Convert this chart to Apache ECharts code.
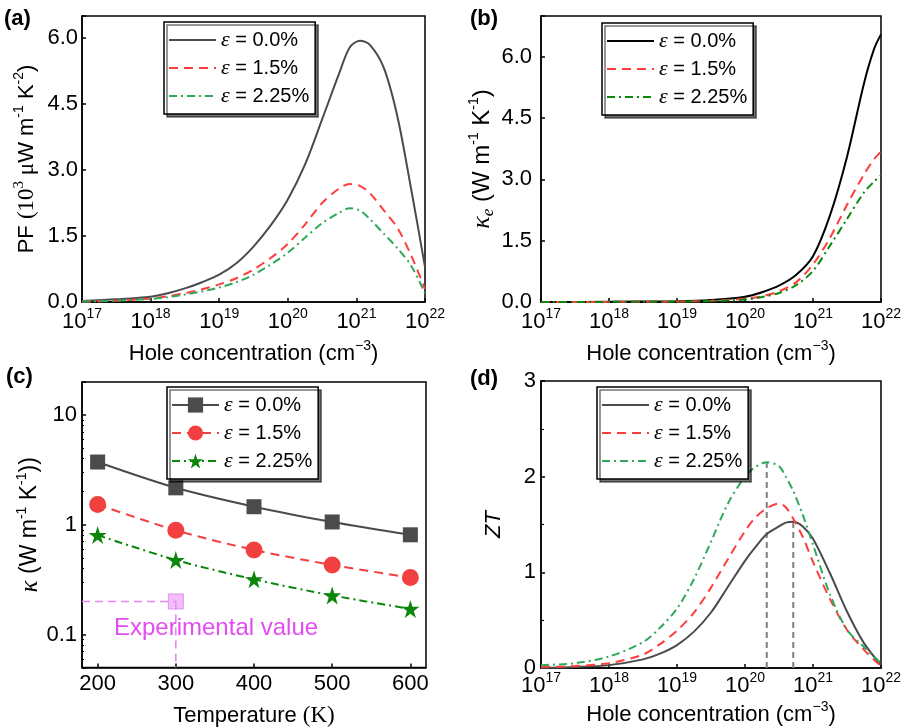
<!DOCTYPE html>
<html>
<head>
<meta charset="utf-8">
<script src="https://cdn.jsdelivr.net/npm/echarts@6/dist/echarts.min.js"></script>
<style>
  html, body { margin: 0; padding: 0; background: #fff; }
  #chart { width: 904px; height: 728px; }
</style>
</head>
<body>
<div id="chart"></div>
<script>
// ---- data ----
// strain levels, shared by all panels
const strainLabels = ['0.0%', '1.5%', '2.25%'];

// (a) power factor (10^3 uW m^-1 K^-2) vs hole concentration, x as log10(p)
const pfExp = [17, 17.5, 18, 18.25, 18.5, 18.75, 19, 19.25, 19.5, 19.75, 20, 20.25, 20.5, 20.75, 20.9, 21.05, 21.2, 21.4, 21.6, 21.8, 22];
const pfS0   = [0.02, 0.06, 0.12, 0.20, 0.31, 0.45, 0.62, 0.88, 1.26, 1.74, 2.33, 3.12, 4.15, 5.20, 5.78, 5.94, 5.84, 5.32, 4.20, 2.55, 0.80];
const pfS15  = [0.01, 0.03, 0.08, 0.13, 0.20, 0.29, 0.40, 0.54, 0.74, 1.00, 1.32, 1.76, 2.25, 2.58, 2.68, 2.64, 2.47, 2.08, 1.68, 1.05, 0.30];
const pfS225 = [0.01, 0.03, 0.07, 0.11, 0.17, 0.24, 0.33, 0.45, 0.62, 0.85, 1.12, 1.46, 1.79, 2.03, 2.13, 2.08, 1.88, 1.55, 1.22, 0.82, 0.20];

// (b) electronic thermal conductivity (W m^-1 K^-1) vs hole concentration
const keExp = [17, 18, 19, 19.5, 20, 20.25, 20.5, 20.75, 21, 21.25, 21.5, 21.75, 21.9, 22];
const keS0   = [0, 0.005, 0.02, 0.05, 0.13, 0.24, 0.40, 0.66, 1.12, 2.12, 3.55, 5.35, 6.20, 6.55];
const keS15  = [0, 0.003, 0.01, 0.03, 0.08, 0.14, 0.26, 0.48, 0.92, 1.57, 2.38, 3.12, 3.50, 3.68];
const keS225 = [0, 0.003, 0.01, 0.025, 0.06, 0.12, 0.22, 0.41, 0.76, 1.38, 2.03, 2.68, 2.95, 3.10];

// (c) lattice thermal conductivity vs temperature
const temps = [200, 300, 400, 500, 600];
const kapS0   = [3.73, 2.17, 1.46, 1.06, 0.81];
const kapS15  = [1.53, 0.89, 0.59, 0.43, 0.33];
const kapS225 = [0.805, 0.477, 0.318, 0.227, 0.171];
const expTemp = 300;
const expKappa = 0.2;

// (d) ZT vs hole concentration
const ztExp = [17, 17.5, 18, 18.5, 18.75, 19, 19.25, 19.5, 19.75, 20, 20.15, 20.32, 20.5, 20.6, 20.71, 20.85, 21, 21.25, 21.5, 21.75, 22];
const ztS0   = [0, 0.01, 0.03, 0.09, 0.15, 0.24, 0.38, 0.58, 0.85, 1.12, 1.26, 1.40, 1.48, 1.52, 1.53, 1.48, 1.35, 0.99, 0.59, 0.26, 0.03];
const ztS15  = [0.01, 0.02, 0.05, 0.14, 0.25, 0.39, 0.58, 0.84, 1.14, 1.43, 1.57, 1.67, 1.72, 1.68, 1.56, 1.37, 1.11, 0.72, 0.40, 0.19, 0.02];
const ztS225 = [0.03, 0.05, 0.12, 0.27, 0.42, 0.62, 0.93, 1.32, 1.72, 2.00, 2.10, 2.15, 2.11, 2.00, 1.85, 1.60, 1.29, 0.77, 0.40, 0.22, 0.05];

// ---- styling ----
const SANS = 'Liberation Sans';
const SERIF = 'Liberation Serif';
const GRAY = '#4b4b4b';
const RED = '#ff3c3c';
const GREEN_L = '#2ea85a';
const GREEN_D = '#0b860b';
const MAGENTA = '#e24cf2';
const DASH = [9, 6];
const DASHDOT = [8, 4, 2, 4];

const toPairs = (exps, vals) => exps.map((e, i) => [Math.pow(10, e), vals[i]]);

function nameRich(size) {
  return {
    t:  { fontFamily: SANS,  fontSize: size, lineHeight: 30, color: '#000' },
    s:  { fontFamily: SANS,  fontSize: 14, lineHeight: 14, verticalAlign: 'top', color: '#000' },
    r:  { fontFamily: SERIF, fontSize: size + 1, lineHeight: 30, color: '#000' },
    rs: { fontFamily: SERIF, fontSize: 15, lineHeight: 15, verticalAlign: 'top', color: '#000' },
    ri: { fontFamily: SERIF, fontSize: size + 2, lineHeight: 30, fontStyle: 'italic', color: '#000' },
    sub:{ fontFamily: SERIF, fontSize: 17, lineHeight: 17, fontStyle: 'italic', verticalAlign: 'bottom', color: '#000' },
    ti: { fontFamily: SANS,  fontSize: size, lineHeight: 30, fontStyle: 'italic', color: '#000' }
  };
}

const holeName = '{t|Hole concentration (cm}{s|−3}{t|)}';

const tickStyle = { show: true, inside: true, length: 4, lineStyle: { color: '#000', width: 1.5 } };
const lineStyleAxis = { show: true, lineStyle: { color: '#000', width: 1.5 } };

function logXAxis(gi, margin, nameGap) {
  return {
    type: 'log', logBase: 10, gridIndex: gi, min: 1e17, max: 1e22,
    axisLine: lineStyleAxis, axisTick: tickStyle, splitLine: { show: false },
    axisLabel: {
      margin,
      formatter: v => '{b|10}{s|' + Math.round(Math.log10(v)) + '}',
      rich: {
        b: { fontFamily: SANS, fontSize: 22, lineHeight: 29, color: '#000' },
        s: { fontFamily: SANS, fontSize: 14, lineHeight: 14, verticalAlign: 'top', color: '#000' }
      }
    },
    name: holeName, nameLocation: 'middle', nameGap,
    nameTextStyle: { rich: nameRich(22) }
  };
}

function valueYAxis(gi, max, interval, margin, name, nameGap, decimals, minor, nameSize) {
  return {
    type: 'value', gridIndex: gi, min: 0, max, interval,
    axisLine: lineStyleAxis, axisTick: tickStyle, splitLine: { show: false },
    minorTick: minor ? { show: true, splitNumber: 2, length: 3, lineStyle: { color: '#000', width: 1.2 } } : { show: false },
    minorSplitLine: { show: false },
    axisLabel: {
      margin, color: '#000', fontFamily: SANS, fontSize: 22,
      formatter: v => (v > max - 1e-9 && max % interval !== 0) ? '' : v.toFixed(decimals)
    },
    name, nameLocation: 'middle', nameGap, nameRotate: 90,
    nameTextStyle: { rich: nameRich(nameSize) }
  };
}

function curve(name, xi, yi, exps, vals, color, type) {
  return {
    name, type: 'line', xAxisIndex: xi, yAxisIndex: yi,
    data: toPairs(exps, vals), smooth: 0.3, symbol: 'none',
    lineStyle: { color, width: 2, type }, itemStyle: { color },
    silent: true, animation: false
  };
}

const starPath = 'path://M50,0 L61.2,34.5 L97.6,34.5 L68.2,55.9 L79.4,90.5 L50,69.1 L20.6,90.5 L31.8,55.9 L2.4,34.5 L38.8,34.5 Z';

function markerCurve(name, xs, vals, color, type, symbol, size) {
  return {
    name, type: 'line', xAxisIndex: 2, yAxisIndex: 2,
    data: xs.map((x, i) => [x, vals[i]]), smooth: 0.3,
    symbol, symbolSize: size, showSymbol: true,
    lineStyle: { color, width: 2, type }, itemStyle: { color },
    silent: true, animation: false
  };
}

function guide(xi, yi, pts, color, width, type) {
  return {
    type: 'line', xAxisIndex: xi, yAxisIndex: yi, data: pts,
    symbol: 'none', lineStyle: { color, width, type }, silent: true, animation: false, z: 1
  };
}

// peak positions in (d) for the vertical guides
function peakOf(exps, vals) {
  let k = 0;
  vals.forEach((v, i) => { if (v > vals[k]) k = i; });
  return [Math.pow(10, exps[k]), vals[k]];
}
const peakS0 = peakOf(ztExp, ztS0);
const peakS225 = peakOf(ztExp, ztS225);

const legendNames = {};
['a', 'b', 'c', 'd'].forEach(p => strainLabels.forEach((s, i) => { legendNames[p + i] = '{e|ε} = ' + s; }));

function legend(p, left, top, itemHeight, withSymbols) {
  const lg = {
    orient: 'vertical', left, top, selectedMode: false,
    data: [p + '0', p + '1', p + '2'],
    formatter: n => legendNames[n],
    itemWidth: 47, itemHeight, itemGap: 6,
    padding: [7, 6, 7, 4],
    backgroundColor: '#fff', borderColor: '#000', borderWidth: 1.5,
    shadowColor: 'rgba(0,0,0,0.55)', shadowOffsetX: 3, shadowOffsetY: 3, shadowBlur: 0,
    textStyle: {
      fontFamily: SANS, fontSize: 20, lineHeight: 22, color: '#000',
      rich: { e: { fontFamily: SERIF, fontStyle: 'italic', fontSize: 22, lineHeight: 22, color: '#000' } }
    }
  };
  if (!withSymbols) lg.itemStyle = { opacity: 0 };
  return lg;
}

const grids = [
  { left: 82,  top: 16,  width: 343, height: 286 },
  { left: 541, top: 16,  width: 343, height: 286 },
  { left: 82,  top: 382, width: 344, height: 286 },
  { left: 541, top: 381, width: 343, height: 287 }
].map(g => Object.assign({ show: true, borderColor: '#000', borderWidth: 1.5, containLabel: false }, g));

const tempTicks = [200, 300, 400, 500, 600];

const option = {
  backgroundColor: '#fff',
  animation: false,
  grid: grids,
  xAxis: [
    logXAxis(0, 5, 37),
    logXAxis(1, 5, 37),
    {
      type: 'value', gridIndex: 2, min: 180, max: 620,
      axisLine: lineStyleAxis,
      axisTick: Object.assign({ customValues: tempTicks }, tickStyle),
      splitLine: { show: false },
      axisLabel: {
        customValues: tempTicks,
        margin: 5, color: '#000', fontFamily: SANS, fontSize: 22,
        formatter: v => String(v)
      },
      name: '{t|Temperature }{r|(K)}', nameLocation: 'middle', nameGap: 33,
      nameTextStyle: { rich: nameRich(22) }
    },
    logXAxis(3, 3, 32)
  ],
  yAxis: [
    valueYAxis(0, 6.5, 1.5, 4, '{t|PF }{r|(10}{rs|3}{r| μ}{t|W m}{s|-1}{t| K}{s|-2}{t|)}', 40, 1, false, 22),
    valueYAxis(1, 7, 1.5, 9, '{ri|κ}{sub|e}{t| (W m}{s|-1}{t| K}{s|-1}{t|)}', 33, 1, false, 24),
    {
      type: 'log', logBase: 10, gridIndex: 2, min: 0.05, max: 20,
      axisLine: lineStyleAxis, axisTick: tickStyle, splitLine: { show: false },
      minorTick: { show: true, splitNumber: 9, length: 2, lineStyle: { color: '#000', width: 1 } },
      axisLabel: {
        margin: 5, color: '#000', fontFamily: SANS, fontSize: 22,
        formatter: v => {
          const e = Math.log10(v);
          if (Math.abs(e - Math.round(e)) > 1e-6) return '';
          return String(Math.pow(10, Math.round(e)));
        }
      },
      name: '{ri|κ}{t| (W m}{s|-1}{t| K}{s|-1}{t|))}', nameLocation: 'middle', nameGap: 36, nameRotate: 90,
      nameTextStyle: { rich: nameRich(23) }
    },
    Object.assign(valueYAxis(3, 3, 1, 4, '{ti|ZT}', 32, 0, true, 22), {
      axisLabel: { margin: 5, color: '#000', fontFamily: SANS, fontSize: 22, formatter: v => String(v) }
    })
  ],
  legend: [
    legend('a', 164, 22, 14, false),
    legend('b', 602, 23, 14, false),
    legend('c', 167, 387, 19, true),
    legend('d', 597, 387, 14, false)
  ],
  series: [
    // (a)
    curve('a0', 0, 0, pfExp, pfS0, GRAY, 'solid'),
    curve('a1', 0, 0, pfExp, pfS15, RED, DASH),
    curve('a2', 0, 0, pfExp, pfS225, GREEN_L, DASHDOT),
    // (b)
    curve('b0', 1, 1, keExp, keS0, '#000', 'solid'),
    curve('b1', 1, 1, keExp, keS15, RED, DASH),
    curve('b2', 1, 1, keExp, keS225, GREEN_D, DASHDOT),
    // (c) reference lines to the measured value
    guide(2, 2, [[180, expKappa], [expTemp, expKappa]], '#e884f6', 1.6, [8, 5]),
    guide(2, 2, [[expTemp, expKappa], [expTemp, 0.05]], '#e884f6', 1.6, [8, 5]),
    {
      type: 'scatter', xAxisIndex: 2, yAxisIndex: 2, data: [[expTemp, expKappa]],
      symbol: 'rect', symbolSize: 15, silent: true, z: 3,
      itemStyle: { color: 'rgba(232,150,244,0.75)', borderColor: '#dd7cf0', borderWidth: 1 }
    },
    markerCurve('c0', temps, kapS0, GRAY, 'solid', 'rect', 15),
    markerCurve('c1', temps, kapS15, '#f24040', DASH, 'circle', 17),
    markerCurve('c2', temps, kapS225, GREEN_D, DASHDOT, starPath, 18),
    // (d) guides at the maxima
    guide(3, 3, [[peakS225[0], 0], peakS225], '#808080', 2, [6, 4]),
    guide(3, 3, [[peakS0[0], 0], peakS0], '#808080', 2, [6, 4]),
    curve('d0', 3, 3, ztExp, ztS0, GRAY, 'solid'),
    curve('d1', 3, 3, ztExp, ztS15, RED, DASH),
    curve('d2', 3, 3, ztExp, ztS225, GREEN_L, DASHDOT)
  ],
  graphic: [
    { type: 'text', left: 4, top: 8, style: { text: '(a)', font: 'bold 22px "Liberation Sans"', fill: '#000' } },
    { type: 'text', left: 470, top: 8, style: { text: '(b)', font: 'bold 22px "Liberation Sans"', fill: '#000' } },
    { type: 'text', left: 6, top: 366, style: { text: '(c)', font: 'bold 22px "Liberation Sans"', fill: '#000' } },
    { type: 'text', left: 470, top: 368, style: { text: '(d)', font: 'bold 22px "Liberation Sans"', fill: '#000' } },
    { type: 'text', left: 114, top: 616, z: 10, style: { text: 'Experimental value', font: '24px "Liberation Sans"', fill: MAGENTA } }
  ]
};

const chart = echarts.init(document.getElementById('chart'));
chart.setOption(option);
</script>
</body>
</html>
